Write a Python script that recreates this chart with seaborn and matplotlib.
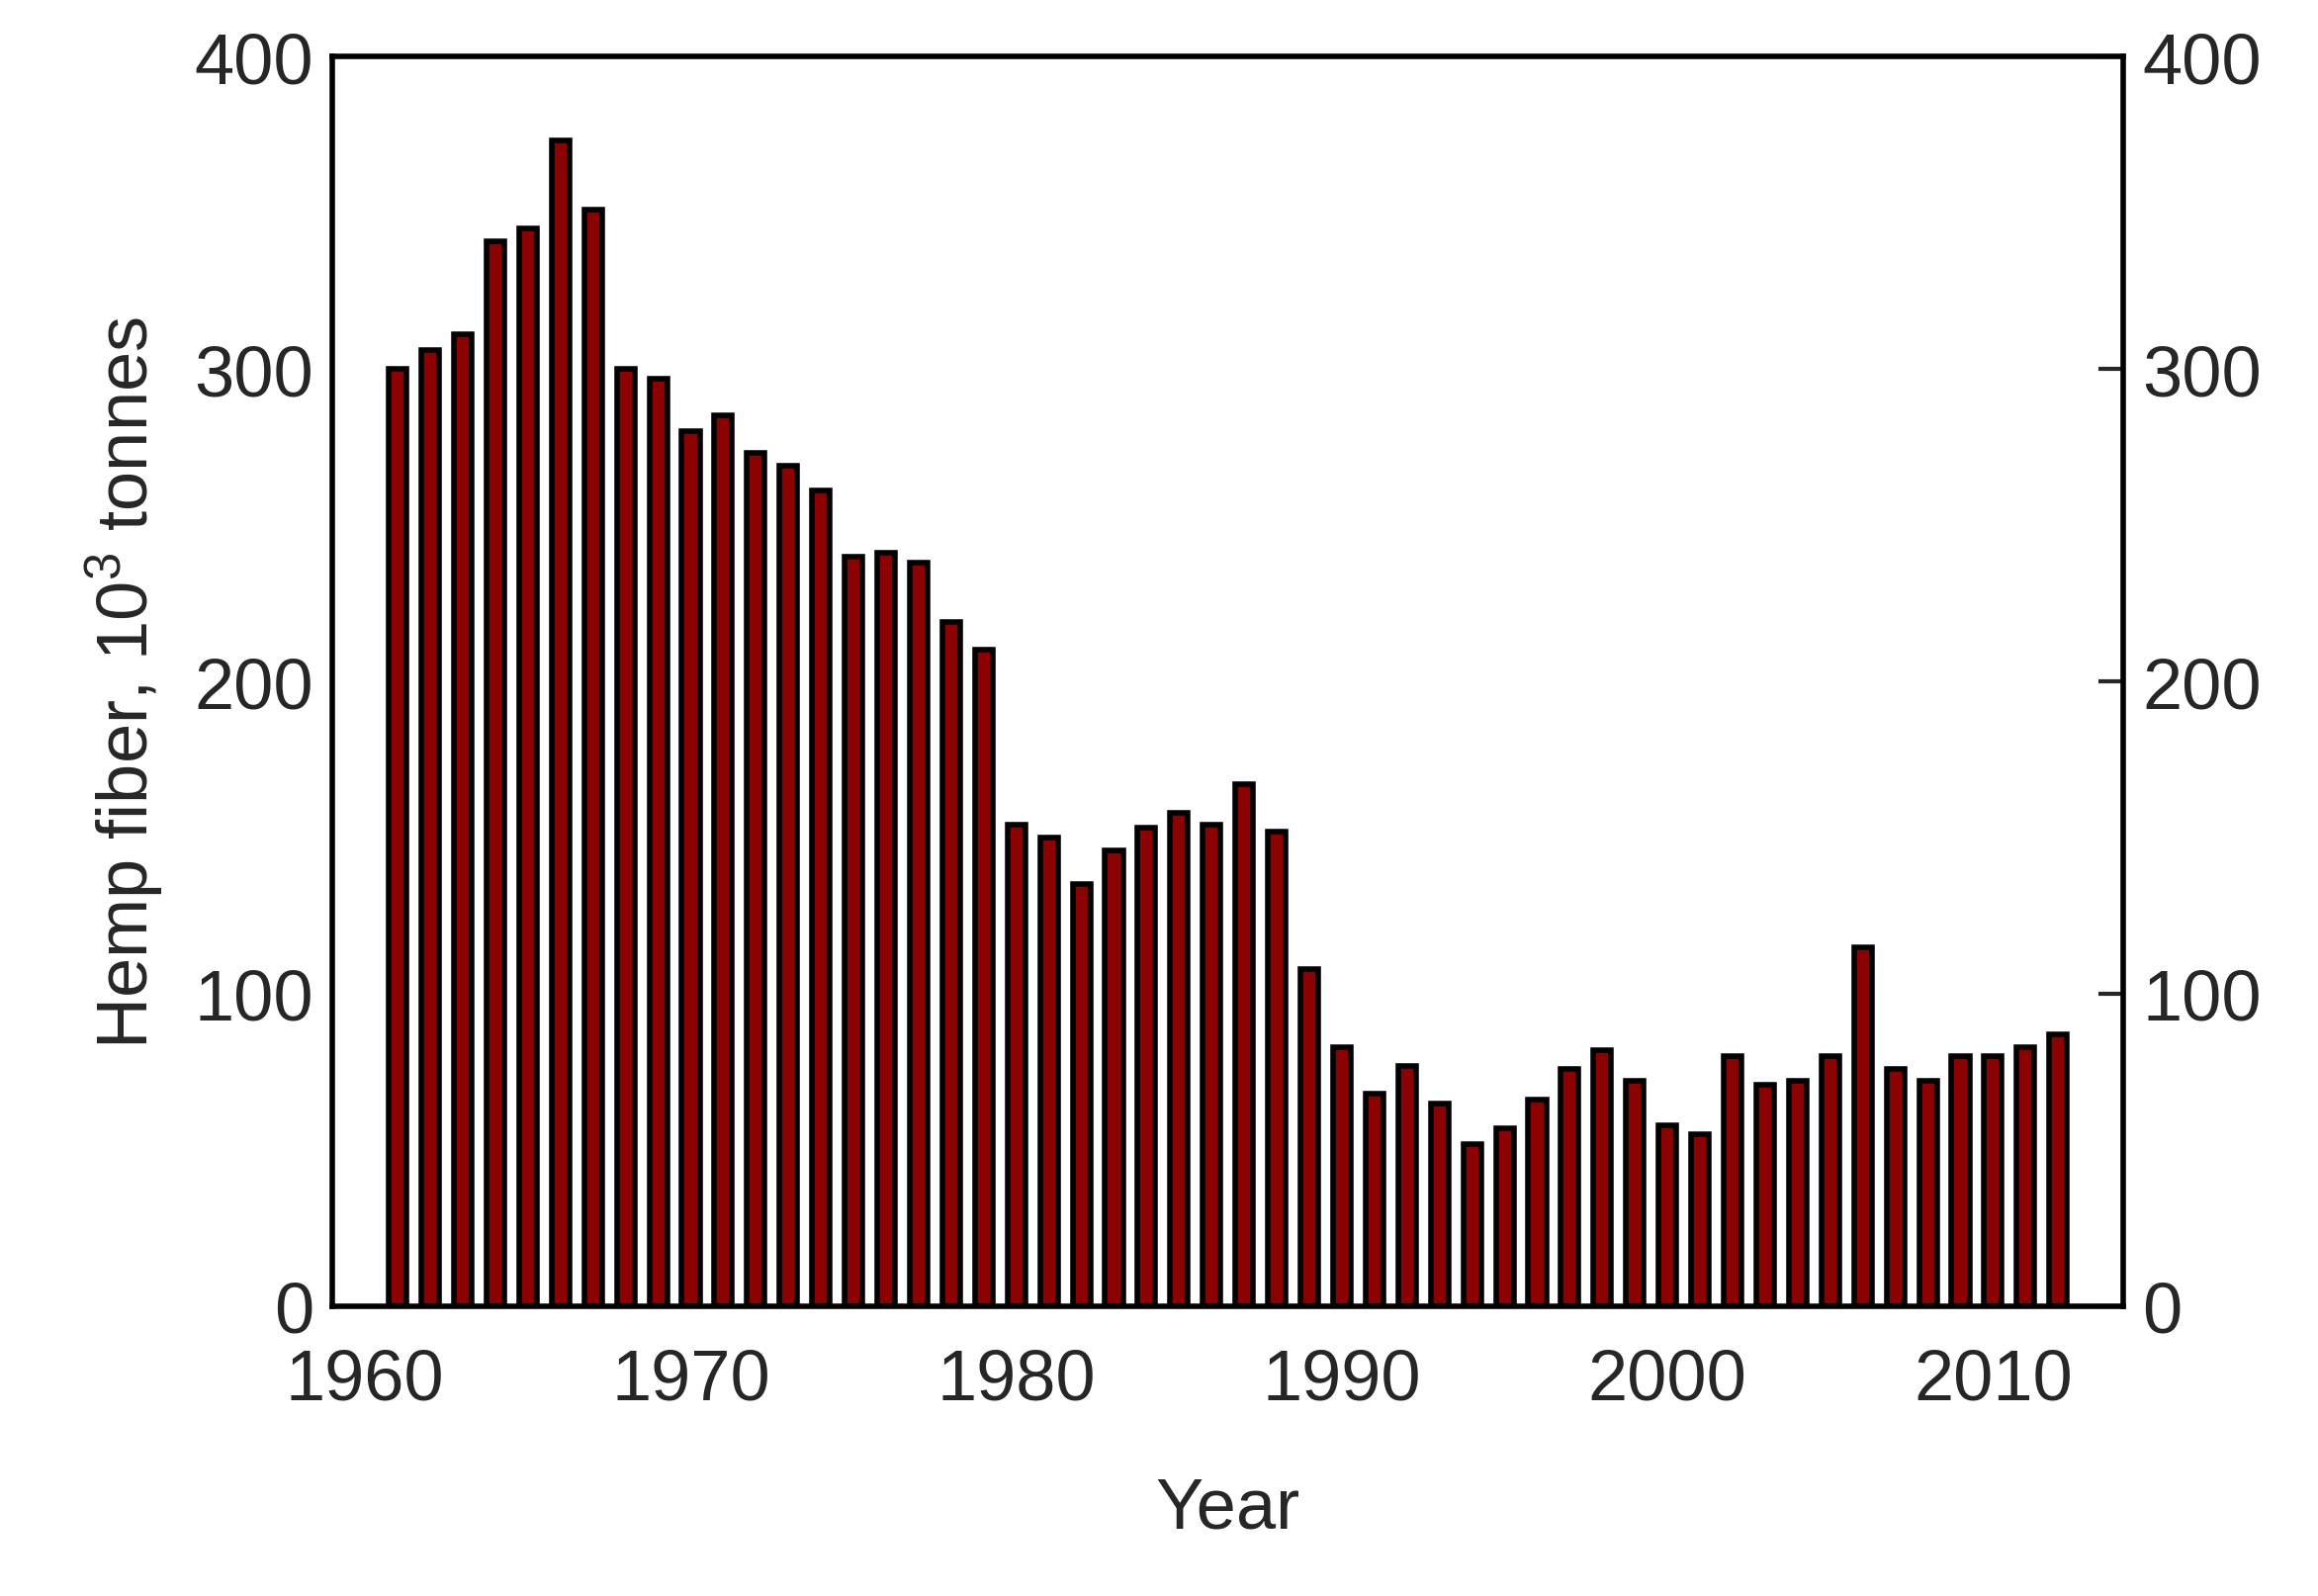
import matplotlib
matplotlib.use("Agg")
import matplotlib.pyplot as plt
import seaborn as sns
import pandas as pd

years = list(range(1961, 2013))
values = [300, 306, 311, 341, 345, 373, 351, 300, 297, 280, 285, 273, 269, 261,
          240, 241, 238, 219, 210, 154, 150, 135, 146, 153, 158, 154, 167, 152,
          108, 83, 68, 77, 65, 52, 57, 66, 76, 82, 72, 58, 55, 80, 71, 72, 80,
          115, 76, 72, 80, 80, 83, 87]

sns.set_style("white")
plt.rcParams['font.family'] = ['Liberation Sans', 'DejaVu Sans']
plt.rcParams['mathtext.fontset'] = 'custom'
plt.rcParams['mathtext.rm'] = 'Liberation Sans'

df = pd.DataFrame({"Year": years, "Fiber": values})
fig = plt.figure(figsize=(23.44, 16.15), dpi=100)
ax = fig.add_axes([0.1435, 0.1815, 0.7725, 0.7825])
sns.barplot(data=df, x="Year", y="Fiber", native_scale=True, width=0.55,
            color="#8b0000", saturation=1, edgecolor="black", linewidth=4, ax=ax)
ax.set_xlim(1959, 2014)
ax.set_ylim(0, 400)
ax.set_xticks([1960, 1970, 1980, 1990, 2000, 2010])
ax.set_yticks([0, 100, 200, 300, 400])
fs = 52
ax.tick_params(axis='x', direction='out', length=18, width=3, labelsize=fs, pad=12)
ax.tick_params(axis='y', direction='in', length=18, width=3, labelsize=fs,
               right=True, labelright=True, pad=14)
for s in ax.spines.values():
    s.set_linewidth(4)
    s.set_color('black')
ax.set_xlabel("Year", fontsize=fs, labelpad=45)
ax.set_ylabel("Hemp fiber, 10$^3$ tonnes", fontsize=fs, labelpad=20)
fig.savefig("out.png", dpi=100)
